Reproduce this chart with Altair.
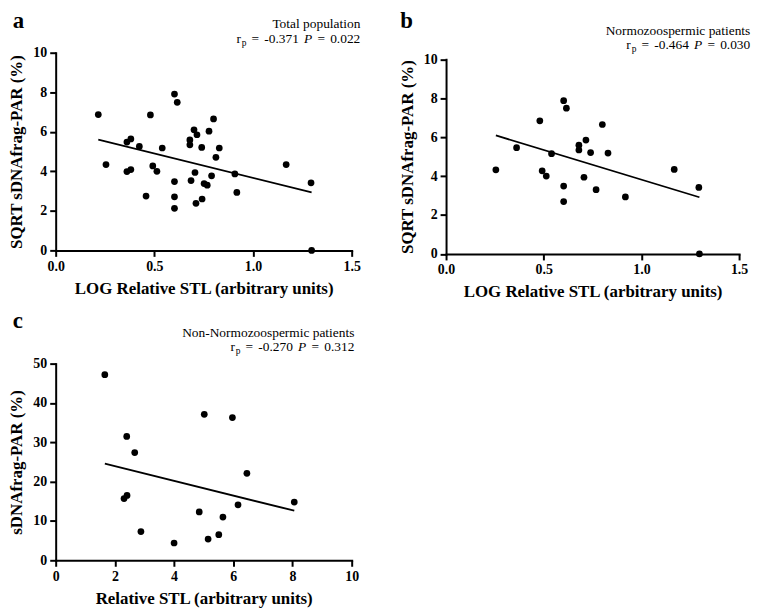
import altair as alt
import pandas as pd

# ---------------- data ----------------
# Panel a: total population (LOG relative STL vs SQRT sDNAfrag-PAR)
a_x = [0.216, 0.255, 0.361, 0.381, 0.361, 0.381, 0.424, 0.458, 0.480, 0.492,
       0.513, 0.540, 0.602, 0.616, 0.602, 0.602, 0.602, 0.680, 0.680, 0.686,
       0.701, 0.716, 0.706, 0.711, 0.740, 0.742, 0.752, 0.768, 0.777, 0.790,
       0.800, 0.812, 0.829, 0.908, 0.918, 1.168, 1.294, 1.297]
a_y = [6.87, 4.34, 5.48, 5.64, 3.99, 4.09, 5.26, 2.75, 6.85, 4.27,
       4.00, 5.18, 7.91, 7.49, 3.48, 2.71, 2.13, 5.59, 5.34, 3.53,
       6.10, 5.85, 3.94, 2.38, 5.21, 2.60, 3.38, 3.30, 6.03, 3.77,
       6.65, 4.71, 5.18, 3.87, 2.93, 4.34, 3.42, 0.00]

# Panel b: normozoospermic patients
b_x = [0.255, 0.361, 0.480, 0.492, 0.513, 0.540, 0.602, 0.616, 0.602, 0.602,
       0.680, 0.680, 0.716, 0.706, 0.740, 0.768, 0.800, 0.829, 0.918, 1.168,
       1.294, 1.297]
b_y = [4.32, 5.46, 6.84, 4.27, 4.00, 5.15, 7.87, 7.49, 3.49, 2.69,
       5.59, 5.34, 5.85, 3.94, 5.21, 3.30, 6.65, 5.18, 2.93, 4.34,
       3.42, 0.00]

# Panel c: non-normozoospermic patients (relative STL vs sDNAfrag-PAR)
c_x = [1.66, 2.40, 2.67, 2.31, 2.41, 2.88, 4.00, 4.85, 5.02, 5.15,
       5.51, 5.65, 5.97, 6.16, 6.46, 8.06]
c_y = [47.2, 31.5, 27.4, 15.7, 16.5, 7.3, 4.4, 12.3, 37.1, 5.4,
       6.5, 11.0, 36.3, 14.1, 22.1, 14.8]

letters = ["a", "b", "c"]
groups = ["Total population", "Normozoospermic patients", "Non-Normozoospermic patients"]
r_vals = ["-0.371", "-0.464", "-0.270"]
p_vals = ["0.022", "0.030", "0.312"]
xticks_log = [0.0, 0.5, 1.0, 1.5]
yticks_sqrt = [0, 2, 4, 6, 8, 10]
xticks_lin = [0, 2, 4, 6, 8, 10]
yticks_lin = [0, 10, 20, 30, 40, 50]
x_titles = ["LOG Relative STL (arbitrary units)", "LOG Relative STL (arbitrary units)",
            "Relative STL (arbitrary units)"]
y_titles = ["SQRT sDNAfrag-PAR (%)", "SQRT sDNAfrag-PAR (%)", "sDNAfrag-PAR (%)"]

SERIF = "Liberation Serif"


def text_layer(txt, x, y, size, align="left", weight="normal", style="normal"):
    df = pd.DataFrame({"t": [txt]})
    return alt.Chart(df).mark_text(
        align=align, baseline="alphabetic", font=SERIF, fontSize=size,
        fontWeight=weight, fontStyle=style, color="black"
    ).encode(x=alt.value(x), y=alt.value(y), text="t:N")


def annotation(i, right, base1, base2, letter_x, letter_y):
    s = 13.5
    sub = 9.5
    gap = 5.2
    # pieces of "r_p = -0.xxx P = 0.xxx" with Times-like widths
    pieces = [("r", 0.333 * s, 0, s, "normal", 0.0),
              ("p", 0.5 * sub, 3, sub, "normal", 0.8),
              ("=", 0.564 * s, 0, s, "normal", gap),
              (r_vals[i], 2.583 * s, 0, s, "normal", gap),
              ("P", 0.611 * s, 0, s, "italic", gap),
              ("=", 0.564 * s, 0, s, "normal", gap),
              (p_vals[i], 2.25 * s, 0, s, "normal", gap)]
    total = sum(w + g for _, w, _, _, _, g in pieces)
    x = right - total
    layers = [
        text_layer(letters[i], letter_x, letter_y, 23, weight="bold"),
        text_layer(groups[i], right, base1, s, align="right"),
    ]
    for txt, w, dy, size, style, g in pieces:
        x += g
        layers.append(text_layer(txt, x, base2 + dy, size, style=style))
        x += w
    return layers


def panel(i, xs, ys, xdom, xticks, xfmt, ydom, yticks, width, height, yrange,
          right, base1, base2, letter_x, letter_y):
    df = pd.DataFrame({"x": xs, "y": ys})
    xsc = alt.Scale(domain=xdom, nice=False, zero=False)
    if yrange is not None:
        ysc = alt.Scale(domain=ydom, nice=False, zero=False, range=yrange)
    else:
        ysc = alt.Scale(domain=ydom, nice=False, zero=False)
    xax = alt.Axis(values=xticks, format=xfmt, title=x_titles[i])
    yax = alt.Axis(values=yticks, format="d", title=y_titles[i])
    base = alt.Chart(df)
    pts = base.mark_circle(size=46, color="black", opacity=1).encode(
        x=alt.X("x:Q", scale=xsc, axis=xax),
        y=alt.Y("y:Q", scale=ysc, axis=yax),
    )
    line = base.transform_regression("x", "y").mark_line(
        color="black", strokeWidth=1.8
    ).encode(x=alt.X("x:Q", scale=xsc, axis=xax),
             y=alt.Y("y:Q", scale=ysc, axis=yax))
    layers = [line, pts] + annotation(i, right, base1, base2, letter_x, letter_y)
    return alt.layer(*layers).properties(width=width, height=height)


pa = panel(0, a_x, a_y, [0, 1.5], xticks_log, ".1f", [0, 10], yticks_sqrt,
           298, 199, None, 306.7, -25, -9.4, -43.3, -25)
pb = panel(1, b_x, b_y, [0, 1.5], xticks_log, ".1f", [0, 10], yticks_sqrt,
           295, 202.6, [202.6, 6.6], 306.3, -18.2, -4, -46, -25)
pc = panel(2, c_x, c_y, [0, 10], xticks_lin, "d", [0, 50], yticks_lin,
           298, 198, None, 300.7, -27.3, -12.3, -43.3, -35.6)

chart = alt.concat(pa, pb, pc, columns=2, spacing={"row": 110, "column": 95},
                   bounds="flush").properties(
    padding=0, background="white"
).configure_view(stroke=None).configure_axis(
    grid=False, domainColor="black", domainWidth=2, domainCap="square",
    tickColor="black", tickWidth=2, tickSize=6,
    labelFont=SERIF, labelFontWeight="bold", labelFontSize=14,
    labelColor="black", labelPadding=3, labelFlush=False, labelOverlap=False,
    titleFont=SERIF, titleFontWeight="bold", titleFontSize=17,
    titleColor="black", titlePadding=7
)

chart.save("out.html", embed_options={"renderer": "svg", "actions": False})
